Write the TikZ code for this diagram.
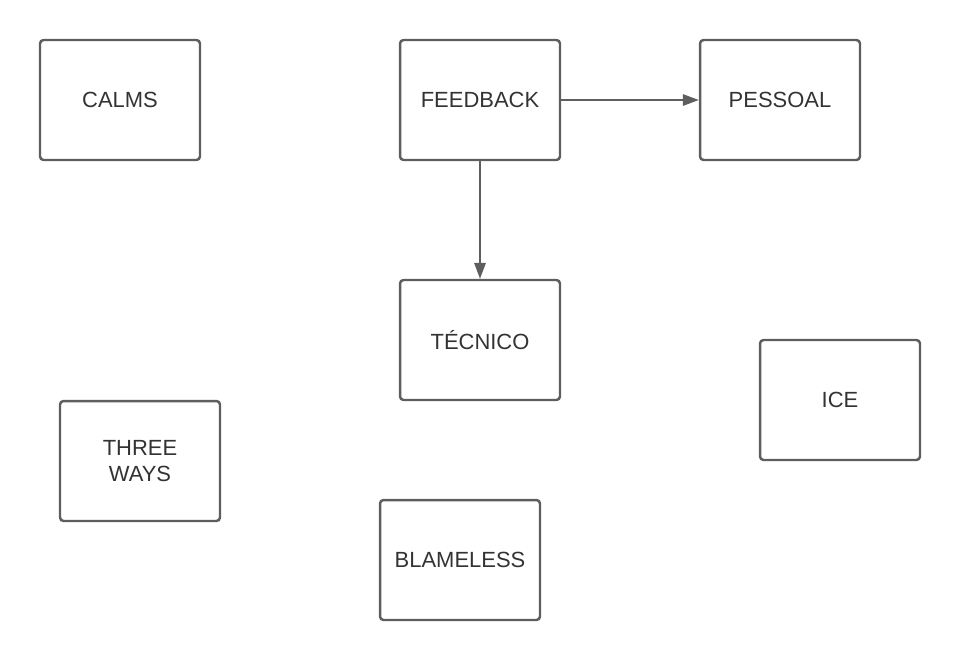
\documentclass[tikz,border=0pt]{standalone}
\usepackage{fontspec}
\setmainfont{Liberation Sans}
\usetikzlibrary{arrows.meta}
\definecolor{boxline}{HTML}{5E5E5E}
\definecolor{boxtext}{HTML}{333333}
\tikzset{
	topic/.style={draw=boxline, line width=1.4pt, rounded corners=2pt, fill=white,
		minimum width=3.2cm, minimum height=2.4cm, align=center, text=boxtext,
		font=\fontsize{12.5}{15}\selectfont},
	link/.style={draw=boxline, line width=0.85pt, -{Triangle[length=9pt, width=6.5pt]}}
}
\begin{document}
\begin{tikzpicture}[x=0.02cm, y=-0.02cm]
		\useasboundingbox (0,0) rectangle (960,660);
		\node[topic] (calms)     at (120,100) {CALMS};
		\node[topic] (feedback)  at (480,100) {FEEDBACK};
		\node[topic] (pessoal)   at (780,100) {PESSOAL};
		\node[topic] (tecnico)   at (480,340) {TÉCNICO};
		\node[topic] (ice)       at (840,400) {ICE};
		\node[topic] (threeways) at (140,461) {THREE\\WAYS};
		\node[topic] (blameless) at (460,560) {BLAMELESS};
		\draw[link] (feedback) -- (pessoal);
		\draw[link] (feedback) -- (tecnico);
	\end{tikzpicture}
\end{document}
